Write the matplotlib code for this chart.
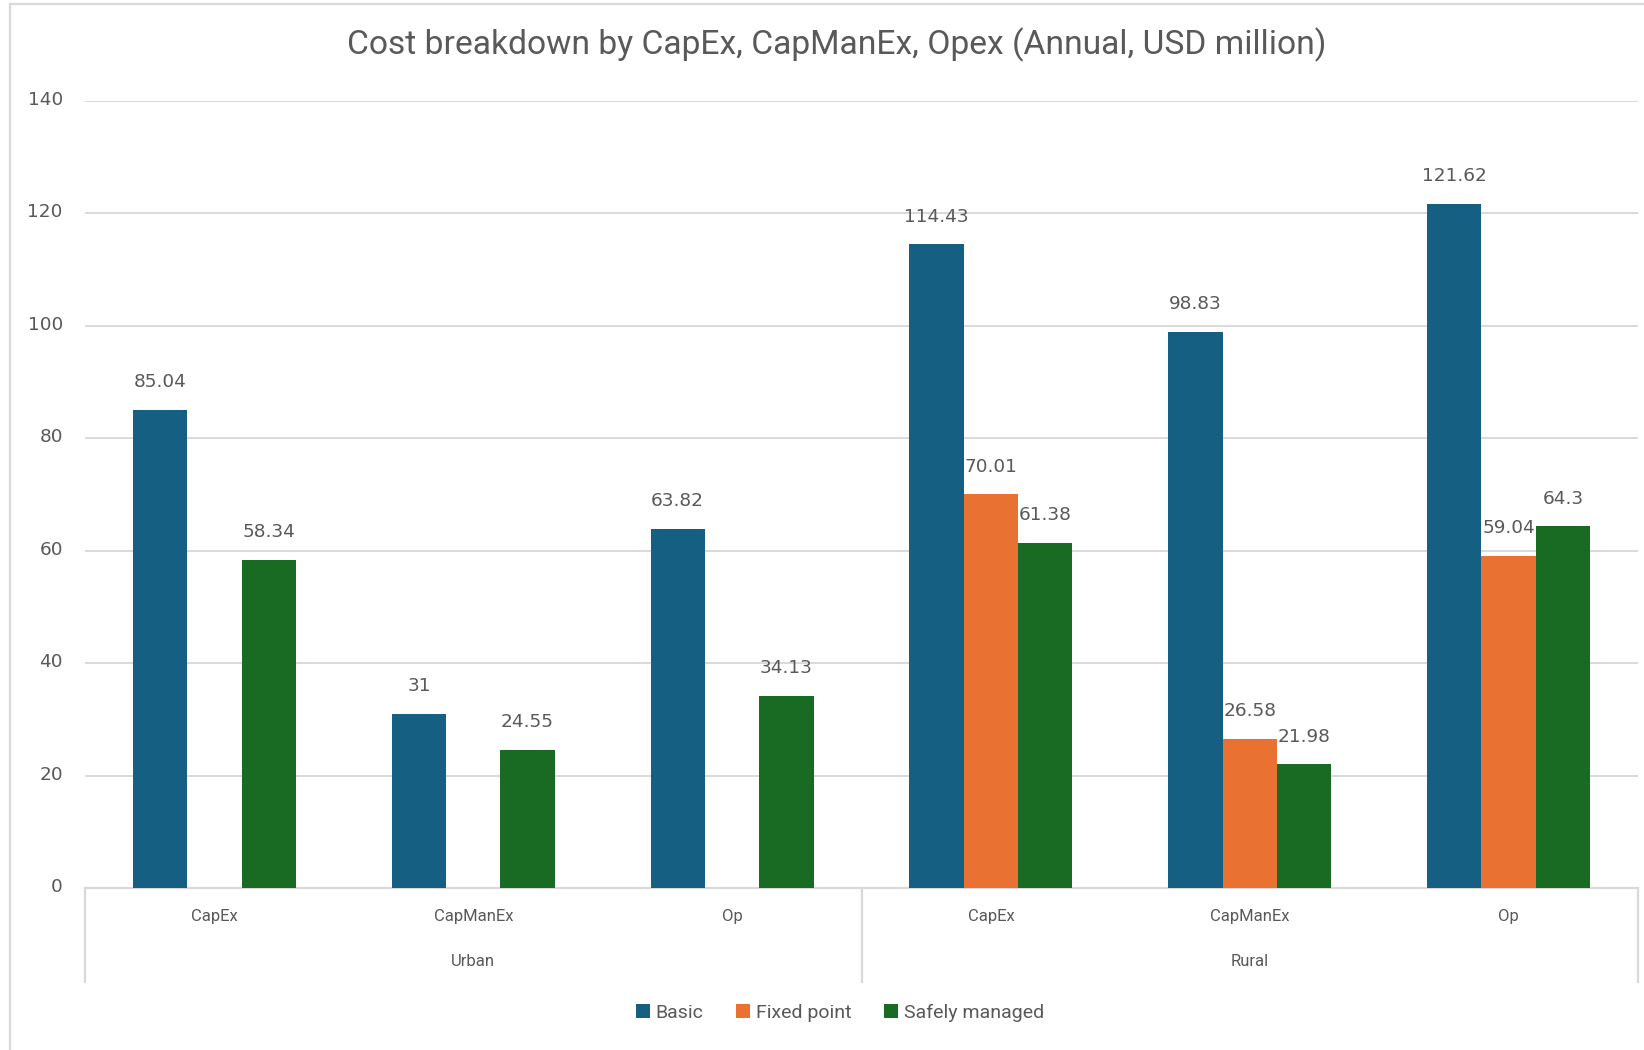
import numpy as np
import matplotlib
matplotlib.use("Agg")
import matplotlib.pyplot as plt
from matplotlib.patches import Patch
from matplotlib.lines import Line2D
from matplotlib.transforms import ScaledTranslation

# ---- data ----
groups = ["Urban", "Rural"]
cost_types = ["CapEx", "CapManEx", "Op"]
series_names = ["Basic", "Fixed point", "Safely managed"]
basic = [85.04, 31, 63.82, 114.43, 98.83, 121.62]
fixed_point = [np.nan, np.nan, np.nan, 70.01, 26.58, 59.04]
safely_managed = [58.34, 24.55, 34.13, 61.38, 21.98, 64.3]
y_ticks = [0, 20, 40, 60, 80, 100, 120, 140]

title = "Cost breakdown by CapEx, CapManEx, Opex (Annual, USD million)"
colors = ["#156082", "#E97132", "#196B24"]
text_grey = "#595959"
line_grey = "#D9D9D9"

W, H = 1644, 1050
fig = plt.figure(figsize=(W / 100, H / 100), dpi=100)
fig.patch.set_facecolor("white")

# chart frame (only top/left edges fall inside the canvas)
fig.add_artist(Line2D([10 / W, 10 / W], [0, 1 - 4 / H], transform=fig.transFigure,
                      color=line_grey, lw=1.6))
fig.add_artist(Line2D([10 / W, 1], [1 - 4 / H, 1 - 4 / H], transform=fig.transFigure,
                      color=line_grey, lw=1.6))

ax_left, ax_right, ax_top, ax_bottom = 85, 1638, 100.7, 888
ax = fig.add_axes([ax_left / W, 1 - ax_bottom / H,
                   (ax_right - ax_left) / W, (ax_bottom - ax_top) / H])

n_cat = len(groups) * len(cost_types)
x = np.arange(n_cat) + 0.5
bar_w = 0.21
series = [basic, fixed_point, safely_managed]

num_font = dict(family="DejaVu Sans", size=13.3, color=text_grey)

for i, (vals, col) in enumerate(zip(series, colors)):
    offs = (i - 1) * bar_w
    vals = np.asarray(vals, dtype=float)
    ax.bar(x + offs, vals, width=bar_w, color=col, zorder=3)
    for xi, v in zip(x + offs, vals):
        if np.isnan(v):
            continue
        ax.annotate(f"{v:g}", (xi, v), xytext=(0, 20), textcoords="offset points",
                    ha="center", va="center", **num_font)

ax.set_xlim(0, n_cat)
ax.set_ylim(0, 140)
ax.set_yticks(y_ticks)
ax.set_yticklabels([str(t) for t in y_ticks], **num_font)
ax.tick_params(axis="y", length=0, pad=16)
lift = ScaledTranslation(0, 3 / 100, fig.dpi_scale_trans)
for lbl in ax.get_yticklabels():
    lbl.set_transform(lbl.get_transform() + lift)
ax.set_xticks([])
ax.grid(axis="y", color=line_grey, lw=1.4, zorder=0)
for s in ["top", "right", "left"]:
    ax.spines[s].set_visible(False)
ax.spines["bottom"].set_color(line_grey)
ax.spines["bottom"].set_linewidth(1.6)

# two-level category axis
trans = ax.get_xaxis_transform()
sep_bottom = -(982 - ax_bottom) / (ax_bottom - ax_top)
for xs in [0, 3, 6]:
    ax.add_line(Line2D([xs, xs], [0, sep_bottom], transform=trans, color=line_grey,
                       lw=1.6, clip_on=False))
lab_y = -(917 - ax_bottom) / (ax_bottom - ax_top)
grp_y = -(962 - ax_bottom) / (ax_bottom - ax_top)
for gi, g in enumerate(groups):
    for ci, c in enumerate(cost_types):
        ax.text(gi * 3 + ci + 0.5, lab_y, c, transform=trans, ha="center", va="center",
                family="Roboto", size=12, color=text_grey)
    ax.text(gi * 3 + 1.5, grp_y, g, transform=trans, ha="center", va="center",
            family="Roboto", size=12, color=text_grey)

fig.text(837 / W, 1 - 45 / H, title, ha="center", va="center",
         family="Roboto", size=24.2, color=text_grey)

handles = [Patch(facecolor=c, edgecolor="none") for c in colors]
fig.legend(handles, series_names, loc="center", bbox_to_anchor=(840 / W, 1 - 1013 / H),
           ncol=3, frameon=False, handlelength=0.7, handleheight=0.7, handletextpad=0.3,
           columnspacing=1.7, prop=dict(family="Roboto", size=14), labelcolor=text_grey)

fig.savefig("out.png", dpi=100, facecolor="white")
